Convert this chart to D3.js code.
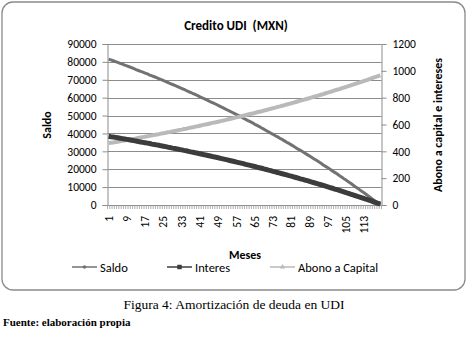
<!DOCTYPE html>
<html>
<head>
<meta charset="utf-8">
<script src="https://cdn.jsdelivr.net/npm/d3@7"></script>
<style>
  body { margin: 0; background: #fff; }
  svg text { font-family: Carlito, Calibri, Lato, sans-serif; fill: #000; }
  svg text.serif { font-family: "Liberation Serif", "Times New Roman", serif; }
</style>
</head>
<body>
<div id="chart"></div>
<script>
const meses = d3.range(1, 121);
const mesesLabels = [1, 9, 17, 25, 33, 41, 49, 57, 65, 73, 81, 89, 97, 105, 113];
const saldoTicks = [0, 10000, 20000, 30000, 40000, 50000, 60000, 70000, 80000, 90000];
const abonoTicks = [0, 200, 400, 600, 800, 1000, 1200];

const saldo = [
  81440, 81120, 80640, 80160, 79680, 79200, 78720, 78240, 77760, 77280,
  76800, 76320, 75680, 75200, 74720, 74240, 73760, 73280, 72640, 72160,
  71680, 71200, 70560, 70080, 69600, 68960, 68480, 67840, 67360, 66880,
  66240, 65760, 65120, 64640, 64000, 63360, 62880, 62240, 61760, 61120,
  60480, 59840, 59360, 58720, 58080, 57440, 56960, 56320, 55680, 55040,
  54400, 53760, 53120, 52480, 51840, 51200, 50560, 49920, 49280, 48480,
  47840, 47200, 46560, 45920, 45120, 44480, 43840, 43040, 42400, 41600,
  40960, 40160, 39520, 38720, 38080, 37280, 36640, 35840, 35040, 34400,
  33600, 32800, 32000, 31200, 30560, 29760, 28960, 28160, 27360, 26560,
  25760, 24960, 24160, 23360, 22400, 21600, 20800, 20000, 19040, 18240,
  17440, 16480, 15680, 14720, 13920, 12960, 12160, 11200, 10240, 9440,
  8480, 7520, 6720, 5760, 4800, 3840, 2880, 1920, 960, 0
];

const interes = [
  512, 509, 507, 504, 501, 498, 495, 492, 489, 486,
  483, 480, 477, 473, 470, 467, 464, 461, 458, 454,
  451, 448, 445, 441, 438, 435, 431, 428, 424, 421,
  418, 414, 411, 407, 404, 400, 396, 393, 389, 386,
  382, 378, 374, 371, 367, 363, 359, 356, 352, 348,
  344, 340, 336, 332, 328, 324, 320, 316, 312, 308,
  303, 299, 295, 291, 287, 282, 278, 274, 269, 265,
  260, 256, 251, 247, 242, 238, 233, 229, 224, 219,
  215, 210, 205, 200, 195, 191, 186, 181, 176, 171,
  166, 161, 156, 151, 146, 140, 135, 130, 125, 119,
  114, 109, 103, 98, 92, 87, 81, 76, 70, 64,
  59, 53, 47, 42, 36, 30, 24, 18, 12, 6
];

const abono = [
  461, 464, 466, 469, 472, 475, 478, 481, 484, 487,
  490, 493, 496, 500, 503, 506, 509, 512, 515, 519,
  522, 525, 528, 532, 535, 538, 542, 545, 549, 552,
  555, 559, 562, 566, 569, 573, 577, 580, 584, 587,
  591, 595, 599, 602, 606, 610, 614, 617, 621, 625,
  629, 633, 637, 641, 645, 649, 653, 657, 661, 665,
  670, 674, 678, 682, 686, 691, 695, 699, 704, 708,
  713, 717, 722, 726, 731, 735, 740, 744, 749, 754,
  758, 763, 768, 773, 778, 782, 787, 792, 797, 802,
  807, 812, 817, 822, 827, 833, 838, 843, 848, 854,
  859, 864, 870, 875, 881, 886, 892, 897, 903, 909,
  914, 920, 926, 931, 937, 943, 949, 955, 961, 967
];

const w = 468;
const h = 337;
const plot = { left: 107.5, right: 381.5, top: 44, bottom: 205 };

const svg = d3
  .select("#chart")
  .append("svg")
  .attr("width", w)
  .attr("height", h);

// chart area frame
svg
  .append("rect")
  .attr("x", 2)
  .attr("y", 2)
  .attr("width", 463)
  .attr("height", 288)
  .attr("rx", 11)
  .attr("fill", "#fff")
  .attr("stroke", "#8a8a8a")
  .attr("stroke-width", 1.3);

const x = d3.scaleBand().domain(meses).range([plot.left, plot.right]);
const ySaldo = d3.scaleLinear().domain([0, 90000]).range([plot.bottom, plot.top]);
const yAbono = d3.scaleLinear().domain([0, 1200]).range([plot.bottom, plot.top]);
const cx = (d) => x(d) + x.bandwidth() / 2;

// gridlines
svg
  .selectAll(".grid")
  .data(saldoTicks.slice(1))
  .join("line")
  .attr("class", "grid")
  .attr("x1", plot.left)
  .attr("x2", plot.right)
  .attr("y1", (d) => Math.round(ySaldo(d)) + 0.5)
  .attr("y2", (d) => Math.round(ySaldo(d)) + 0.5)
  .attr("stroke", "#8c8c8c")
  .attr("stroke-width", 1);

// left axis
const leftAxis = svg
  .append("g")
  .attr("transform", `translate(${plot.left},0)`)
  .call(d3.axisLeft(ySaldo).tickValues(saldoTicks).tickSize(5).tickPadding(6).tickFormat(d3.format("d")));

// right axis
const rightAxis = svg
  .append("g")
  .attr("transform", `translate(${plot.right},0)`)
  .call(d3.axisRight(yAbono).tickValues(abonoTicks).tickSize(5).tickPadding(6).tickFormat(d3.format("d")));

[leftAxis, rightAxis].forEach((g) => {
  g.select(".domain").attr("stroke", "#8c8c8c");
  g.selectAll(".tick line").attr("stroke", "#8c8c8c");
  g.selectAll(".tick text").attr("font-size", "11.5px").attr("fill", "#000");
});

// x axis
const xAxis = svg
  .append("g")
  .attr("transform", `translate(0,${plot.bottom})`);
xAxis
  .append("line")
  .attr("x1", plot.left)
  .attr("x2", plot.right)
  .attr("y1", 0.5)
  .attr("y2", 0.5)
  .attr("stroke", "#8c8c8c");
xAxis
  .selectAll(".xtick")
  .data(meses.concat([121]))
  .join("line")
  .attr("class", "xtick")
  .attr("x1", (d) => (d === 121 ? plot.right : x(d)))
  .attr("x2", (d) => (d === 121 ? plot.right : x(d)))
  .attr("y1", 0)
  .attr("y2", 4)
  .attr("stroke", "#9a9a9a")
  .attr("stroke-width", 0.8);
xAxis
  .selectAll(".xlabel")
  .data(mesesLabels)
  .join("text")
  .attr("class", "xlabel")
  .attr("transform", (d) => `translate(${cx(d) + 4},11) rotate(-90)`)
  .attr("text-anchor", "end")
  .attr("font-size", "11.5px")
  .text((d) => d);

// lines
const series = [
  { name: "Saldo", values: saldo, y: ySaldo, color: "#727272", width: 3 },
  { name: "Abono a Capital", values: abono, y: yAbono, color: "#b9b9b9", width: 4 },
  { name: "Interes", values: interes, y: yAbono, color: "#3c3c3c", width: 5 }
];

series.forEach((s) => {
  const line = d3
    .line()
    .x((d, i) => cx(meses[i]))
    .y((d) => s.y(d));
  svg
    .append("path")
    .datum(s.values)
    .attr("d", line)
    .attr("fill", "none")
    .attr("stroke", s.color)
    .attr("stroke-width", s.width)
    .attr("stroke-linejoin", "round");
});

// titles
svg
  .append("text")
  .attr("x", 236)
  .attr("y", 30)
  .attr("text-anchor", "middle")
  .attr("font-size", "13px")
  .attr("font-weight", "bold")
  .attr("xml:space", "preserve")
  .text("Credito UDI  (MXN)");

svg
  .append("text")
  .attr("transform", "translate(51,125) rotate(-90)")
  .attr("text-anchor", "middle")
  .attr("font-size", "12px")
  .attr("font-weight", "bold")
  .text("Saldo");

svg
  .append("text")
  .attr("transform", "translate(442,125) rotate(-90)")
  .attr("text-anchor", "middle")
  .attr("font-size", "12px")
  .attr("font-weight", "bold")
  .text("Abono a capital e intereses");

svg
  .append("text")
  .attr("x", 245)
  .attr("y", 259)
  .attr("text-anchor", "middle")
  .attr("font-size", "12px")
  .attr("font-weight", "bold")
  .text("Meses");

// legend
const legendItems = [
  { name: "Saldo", color: "#727272", marker: "circle", x: 72 },
  { name: "Interes", color: "#3c3c3c", marker: "square", x: 167 },
  { name: "Abono a Capital", color: "#b9b9b9", marker: "triangle", x: 270 }
];

const legend = svg
  .selectAll(".legend-item")
  .data(legendItems)
  .join("g")
  .attr("class", "legend-item")
  .attr("transform", (d) => `translate(${d.x},267)`);

legend
  .append("line")
  .attr("x1", 0)
  .attr("x2", 25)
  .attr("stroke", (d) => d.color)
  .attr("stroke-width", 1.5);

legend
  .append("path")
  .attr("transform", "translate(12.5,0)")
  .attr("d", (d) => {
    if (d.marker === "circle") return d3.symbol(d3.symbolCircle, 10)();
    if (d.marker === "square") return d3.symbol(d3.symbolSquare, 20)();
    return d3.symbol(d3.symbolTriangle, 12)();
  })
  .attr("fill", (d) => d.color);

legend
  .append("text")
  .attr("x", 28)
  .attr("y", 4.5)
  .attr("font-size", "12.5px")
  .attr("fill", "#222")
  .text((d) => d.name);

// caption below the chart
svg
  .append("text")
  .attr("class", "serif")
  .attr("x", 234)
  .attr("y", 309)
  .attr("text-anchor", "middle")
  .attr("font-size", "13.5px")
  .text("Figura 4: Amortización de deuda en UDI");

svg
  .append("text")
  .attr("class", "serif")
  .attr("x", 3)
  .attr("y", 326)
  .attr("font-size", "11px")
  .attr("font-weight", "bold")
  .text("Fuente: elaboración propia");
</script>
</body>
</html>
